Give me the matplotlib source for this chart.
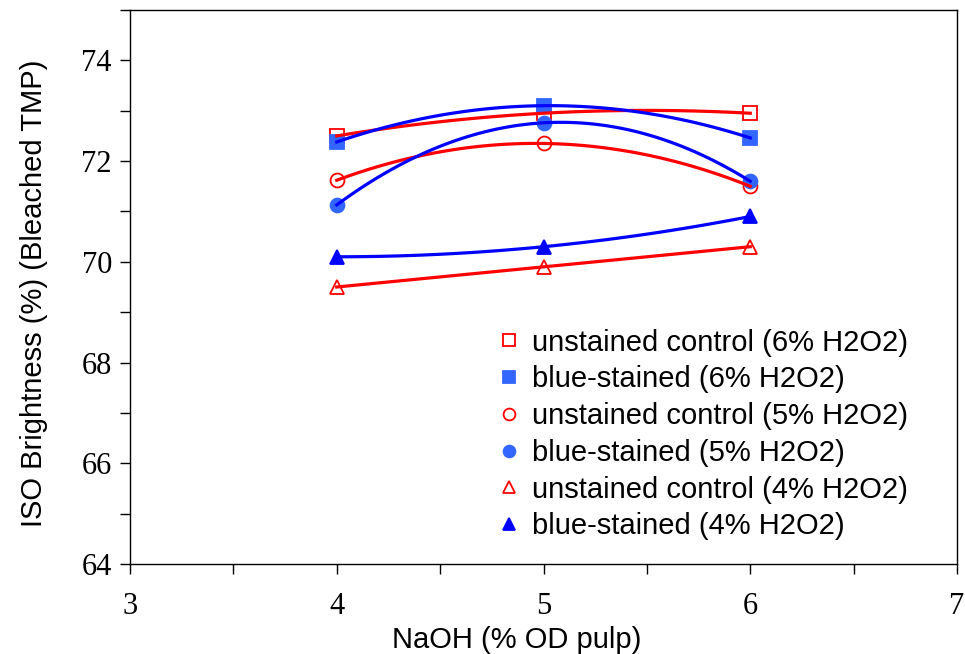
import numpy as np
import matplotlib
matplotlib.use('Agg')
import matplotlib.pyplot as plt
from matplotlib.ticker import MultipleLocator

naoh = [4, 5, 6]
unstained_6 = [72.5, 72.95, 72.95]
stained_6 = [72.38, 73.1, 72.46]
unstained_5 = [71.62, 72.35, 71.5]
stained_5 = [71.13, 72.76, 71.6]
unstained_4 = [69.5, 69.9, 70.3]
stained_4 = [70.1, 70.3, 70.9]

labels = ['unstained control (6% H2O2)', 'blue-stained (6% H2O2)',
          'unstained control (5% H2O2)', 'blue-stained (5% H2O2)',
          'unstained control (4% H2O2)', 'blue-stained (4% H2O2)']

RED = '#ff0000'
BLUE = '#0000ff'
LBLUE = '#3366ff'

# (values, marker, face, edge, line colour)
series = [
    (unstained_6, 's', 'white', RED, RED),
    (stained_6, 's', LBLUE, LBLUE, BLUE),
    (unstained_5, 'o', 'white', RED, RED),
    (stained_5, 'o', LBLUE, LBLUE, BLUE),
    (unstained_4, '^', 'white', RED, RED),
    (stained_4, '^', BLUE, BLUE, BLUE),
]

fig = plt.figure(figsize=(9.65, 6.54), dpi=100)
ax = fig.add_axes([130/965, 1-564/654, 827/965, 554/654])

xs = np.linspace(4, 6, 100)
for (vals, mk, fc, ec, lc), lab in zip(series, labels):
    ax.plot(naoh, vals, linestyle='none', marker=mk, markersize=10,
            markerfacecolor=fc, markeredgecolor=ec, markeredgewidth=1.3,
            label=lab, zorder=2)
    # 2nd order polynomial trendline
    p = np.polyfit(naoh, vals, 2)
    ax.plot(xs, np.polyval(p, xs), color=lc, lw=2.3, zorder=3)

ax.set_xlim(3, 7)
ax.set_ylim(64, 75)
ax.xaxis.set_major_locator(MultipleLocator(1))
ax.xaxis.set_minor_locator(MultipleLocator(0.5))
ax.yaxis.set_minor_locator(MultipleLocator(1))
ax.set_yticks([64, 66, 68, 70, 72, 74])
ax.tick_params(which='both', direction='out', length=7, width=1)
ax.tick_params(axis='x', which='major', labelsize=22, pad=13)
ax.tick_params(axis='y', which='major', labelsize=22, pad=6)
for lbl in ax.get_xticklabels() + ax.get_yticklabels():
    lbl.set_family('Liberation Serif')
for s in ax.spines.values():
    s.set_linewidth(1)

ax.set_xlabel('NaOH (% OD pulp)', family='Liberation Sans', fontsize=21,
              labelpad=4, x=0.468)
ax.set_ylabel('ISO Brightness (%) (Bleached TMP)', family='Liberation Sans',
              fontsize=21, labelpad=24, y=0.488)

leg = ax.legend(loc='upper left', bbox_to_anchor=(0.446, 0.425), frameon=False,
                prop={'family': 'Liberation Sans', 'size': 21}, markerscale=0.85,
                handlelength=0.7, handletextpad=0.42, labelspacing=0.30,
                borderpad=0, borderaxespad=0)

fig.savefig('out.png', dpi=100)
